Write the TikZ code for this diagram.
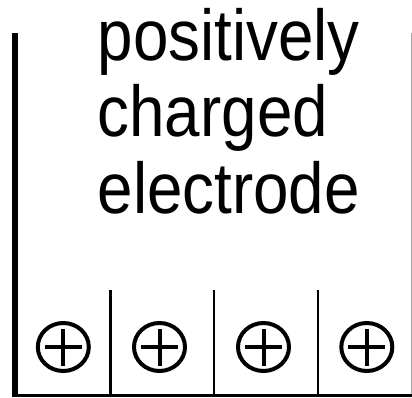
\documentclass[tikz,border=0pt]{standalone}
\usepackage{fontspec}
\setmainfont{Liberation Sans}
\usetikzlibrary{shapes.geometric}
\begin{document}
\begin{tikzpicture}[x=1pt,y=-1pt,
  label text/.style={anchor=base west,inner sep=0pt,font=\fontsize{72}{77}\selectfont},
  pluscharge/.style={ellipse,draw,line width=4pt,minimum width=51pt,minimum height=48pt,inner sep=0pt,
    path picture={\draw[line width=4pt] ([xshift=-18.5pt]path picture bounding box.center) -- ([xshift=18.5pt]path picture bounding box.center);
                  \draw[line width=4pt] ([yshift=-18.5pt]path picture bounding box.center) -- ([yshift=18.5pt]path picture bounding box.center);}},
  electrode/.style={line width=5.5pt},
  wall/.style={line width=2.2pt},
  edge line/.style={line width=1pt,black!35}]
\useasboundingbox (0,0) rectangle (412,397);
% coordinates
\coordinate (eTop) at (14.8,33);
\coordinate (eBot) at (14.8,397);
\coordinate (bL) at (12,395.5);
\coordinate (bR) at (412,395.5);
\coordinate (d1t) at (110.5,290); \coordinate (d1b) at (110.5,395.5);
\coordinate (d2t) at (214.3,290); \coordinate (d2b) at (214.3,395.5);
\coordinate (d3t) at (318,290);   \coordinate (d3b) at (318,395.5);
\coordinate (rT) at (411,33); \coordinate (rB) at (411,397);
% lines
\draw[edge line] (rT) -- (rB);
\draw[electrode] (eTop) -- (eBot);
\draw[wall] (bL) -- (bR);
\draw[wall] (d1t) -- (d1b);
\draw[wall] (d2t) -- (d2b);
\draw[wall] (d3t) -- (d3b);
% text
\node[label text] (l1) at (97.5,60) {\scalebox{0.885}[1]{positively}};
\node[label text] (l2) at (97.5,136.7) {\scalebox{0.885}[1]{charged}};
\node[label text] (l3) at (97.5,213.3) {\scalebox{0.885}[1]{electrode}};
% charges
\node[pluscharge] (p1) at (63.3,347) {};
\node[pluscharge] (p2) at (159.5,347) {};
\node[pluscharge] (p3) at (263.5,347) {};
\node[pluscharge] (p4) at (366.8,347) {};
\end{tikzpicture}
\end{document}
